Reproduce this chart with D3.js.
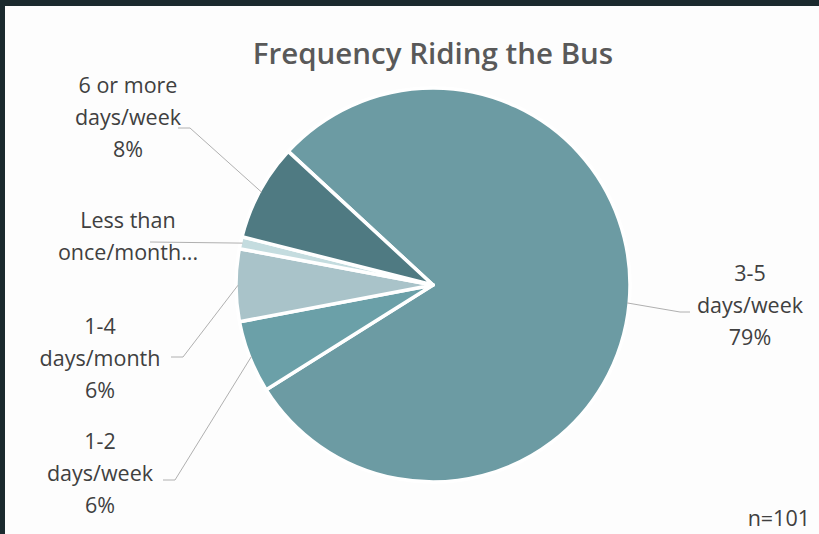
<!DOCTYPE html>
<meta charset='utf-8'>
<style>
	body { margin: 0; background: #1b2a2e; }
	#container { width: 819px; height: 534px; }
	text { font-family: 'Open Sans', sans-serif; }
</style>
<body>
	<div id='container'></div>
<script src='https://d3js.org/d3.v7.min.js'></script>
<script>
	// respondents per answer, n=101
	const categories = [ '3-5 days/week', '1-2 days/week', '1-4 days/month', 'Less than once/month', '6 or more days/week' ];
	const counts = [ 80, 6, 6, 1, 8 ];
	const labelLines = [
		[ '3-5', 'days/week' ],
		[ '1-2', 'days/week' ],
		[ '1-4', 'days/month' ],
		[ 'Less than', 'once/month...' ],
		[ '6 or more', 'days/week' ],
	];
	const showPct = [ true, true, true, false, true ];
	const colorList = [ '#6c9ba3', '#6ba0a8', '#a9c3c9', '#c4dcdf', '#4f7a82' ];
	const title = 'Frequency Riding the Bus';
	const note = 'n=101';

	const width = 819, height = 534,
		cx = 433, cy = 285, radius = 197;

	const total = d3.sum( counts );
	const data = categories.map( ( c, i ) => ( { name: c, value: counts[ i ], i: i } ) );

	const svg = d3.select( '#container' )
		.append( 'svg' )
		.attr( 'width', width )
		.attr( 'height', height );

	// white panel inside the dark frame
	svg.append( 'rect' )
		.attr( 'x', 5 ).attr( 'y', 6 )
		.attr( 'width', width - 5 ).attr( 'height', height - 6 )
		.style( 'fill', '#fdfdfd' );

	svg.append( 'text' )
		.attr( 'x', 433 ).attr( 'y', 64 )
		.attr( 'text-anchor', 'middle' )
		.style( 'font-size', '29.5px' )
		.style( 'font-weight', 600 )
		.style( 'fill', '#595959' )
		.text( title );

	const color = d3.scaleOrdinal( colorList ).domain( categories );

	const pie = d3.pie()
		.sort( null )
		.value( d => d.value )
		.startAngle( 312.7 * Math.PI / 180 )
		.endAngle( ( 312.7 + 360 ) * Math.PI / 180 );

	const arc = d3.arc().innerRadius( 0 ).outerRadius( radius );

	const g = svg.append( 'g' )
		.attr( 'transform', `translate( ${cx}, ${cy} )` );

	const arcs = pie( data );

	g.selectAll( '.slice' )
		.data( arcs )
		.enter().append( 'path' )
			.attr( 'class', 'slice' )
			.attr( 'd', arc )
			.style( 'fill', d => color( d.data.name ) )
			.style( 'stroke', '#ffffff' )
			.style( 'stroke-width', 3.5 )
			.style( 'stroke-linejoin', 'round' );

	// label placement (centre x, first line y) and leader line end
	const labelPos = [
		{ x: 750, y: 281, lx: 690, ly: 312, side: 'right' },
		{ x: 100, y: 449, lx: 175, ly: 480, side: 'left' },
		{ x: 100, y: 334, lx: 183, ly: 357, side: 'left' },
		{ x: 128, y: 228, lx: 150, ly: 242, side: 'flat' },
		{ x: 128, y: 93, lx: 190, ly: 128, side: 'left' },
	];
	const lineH = 32;

	const labels = svg.append( 'g' ).attr( 'class', 'labels' );

	arcs.forEach( ( d, i ) => {
		const p = labelPos[ i ];
		const lines = labelLines[ i ].slice();
		if ( showPct[ i ] ) lines.push( Math.round( d.value / total * 100 ) + '%' );

		const t = labels.append( 'text' )
			.attr( 'text-anchor', 'middle' )
			.style( 'font-size', '21.5px' )
			.style( 'fill', '#404040' );
		lines.forEach( ( l, j ) => {
			t.append( 'tspan' )
				.attr( 'x', p.x )
				.attr( 'y', p.y + j * lineH )
				.text( l );
		} );

		// leader line from label to slice edge
		const mid = ( d.startAngle + d.endAngle ) / 2;
		const ex = cx + Math.sin( mid ) * ( radius - 2 ),
			ey = cy - Math.cos( mid ) * ( radius - 2 );
		let pts;
		if ( p.side === 'right' ) pts = [ [ p.lx, p.ly ], [ p.lx - 10, p.ly ], [ ex, ey ] ];
		else if ( p.side === 'flat' ) pts = [ [ p.lx, p.ly ], [ ex, ey ] ];
		else pts = [ [ p.lx - 12, p.ly ], [ p.lx, p.ly ], [ ex, ey ] ];
		labels.append( 'path' )
			.attr( 'd', d3.line()( pts ) )
			.style( 'fill', 'none' )
			.style( 'stroke', '#b0b0b0' )
			.style( 'stroke-width', 1 );
	} );

	svg.append( 'text' )
		.attr( 'x', 810 ).attr( 'y', 526 )
		.attr( 'text-anchor', 'end' )
		.style( 'font-size', '21.5px' )
		.style( 'fill', '#404040' )
		.text( note );
</script>
</body>
